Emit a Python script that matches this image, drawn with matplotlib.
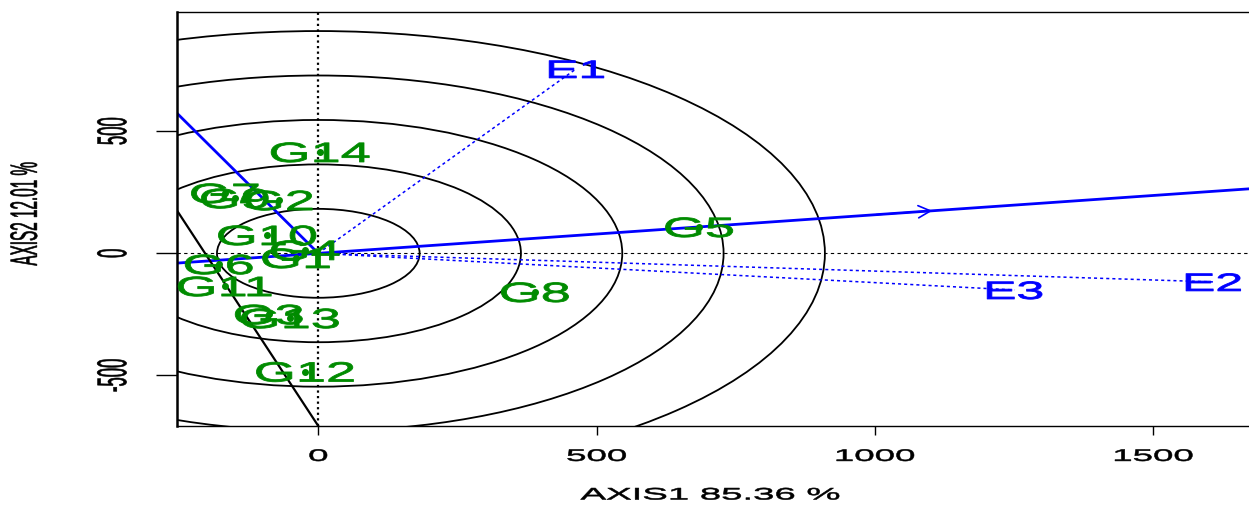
import matplotlib
matplotlib.use("Agg")
import matplotlib.pyplot as plt
from matplotlib import patheffects
from matplotlib.patches import Circle
from matplotlib.transforms import Affine2D
import numpy as np

# genotype scores (AXIS1, AXIS2)
genotypes = ["G1", "G2", "G3", "G4", "G5", "G6", "G7", "G8", "G9", "G10",
             "G11", "G12", "G13", "G14"]
g_x = [-40, -71, -89, -24, 684, -179, -168, 389, -150, -92, -168, -24, -51, 3]
g_y = [-19, 218, -249, 14, 108, -44, 247, -158, 226, 75, -134, -484, -265, 415]

# environment scores
environments = ["E1", "E2", "E3"]
e_x = [463, 1607, 1250]
e_y = [755, -117, -150]

# average environment axis and the other guide lines
aea_tip = (1108, 175)
aea_dir = (1672, 264)
ordinate_dir = (-254, 574)
cut_line_x = [-252, 0]
cut_line_y = [169, -707]
circle_radii = [182, 364, 546, 728, 910]

xticks = [0, 500, 1000, 1500]
yticks = [-500, 0, 500]
xlabel = "AXIS1 85.36 %"
ylabel = "AXIS2 12.01 %"

green = "#008B00"
blue = "#0000FF"


class Stretch(patheffects.AbstractPathEffect):
    # the original picture was stretched sideways, text included
    def __init__(self, sx, lw=0.6):
        super().__init__()
        self.sx = sx
        self.lw = lw

    def draw_path(self, renderer, gc, tpath, affine, rgbFace=None):
        ext = affine.transform_path(tpath).get_extents()
        cx = 0.5 * (ext.x0 + ext.x1)
        st = affine + Affine2D().translate(-cx, 0).scale(self.sx, 1).translate(cx, 0)
        gc0 = renderer.new_gc()
        gc0.copy_properties(gc)
        gc0.set_linewidth(self.lw)
        gc0.set_foreground(rgbFace)
        renderer.draw_path(gc0, tpath, st, rgbFace)
        gc0.restore()


plt.rcParams['font.family'] = ['Liberation Sans', 'DejaVu Sans']

fig = plt.figure(figsize=(12.49, 5.07), dpi=100)
ax = fig.add_axes([177 / 1249, 81 / 507, 1072 / 1249, 414 / 507])
ax.set_xlim(-253.8, 1671.8)
ax.set_ylim(-707, 988)

for r in circle_radii:
    ax.add_patch(Circle((0, 0), r, fill=False, color="black", lw=1.3))

ax.axvline(0, color="black", ls=(0, (1, 1.5)), lw=1.6)
ax.axhline(0, color="black", ls=(0, (3, 3)), lw=0.8)

big = 5
ax.plot([-big * aea_dir[0], big * aea_dir[0]], [-big * aea_dir[1], big * aea_dir[1]],
        color=blue, lw=2)
ax.plot([0, big * ordinate_dir[0]], [0, big * ordinate_dir[1]], color=blue, lw=2)
ax.annotate("", xy=aea_tip, xytext=(aea_tip[0] * 0.9, aea_tip[1] * 0.9),
            arrowprops=dict(arrowstyle="->", color=blue, lw=1.2, mutation_scale=22))

xx = np.array(cut_line_x, dtype=float)
yy = np.array(cut_line_y, dtype=float)
slope = (yy[1] - yy[0]) / (xx[1] - xx[0])
ax.plot([xx[0] - 100, xx[1] + 100], [yy[0] - 100 * slope, yy[1] + 100 * slope],
        color="black", lw=1.6)

for name, x, y in zip(environments, e_x, e_y):
    ax.plot([0, x], [0, y], color=blue, ls=(0, (2, 2)), lw=1.1)
    ax.annotate(name, (x, y), xytext=(0, -2), textcoords="offset pixels",
                color=blue, fontsize=18, ha="center", va="center",
                path_effects=[Stretch(2.0)])

ax.scatter(g_x, g_y, s=16, color=green, zorder=3)
for name, x, y in zip(genotypes, g_x, g_y):
    ax.annotate(name, (x, y), xytext=(0, -3), textcoords="offset pixels",
                color=green, fontsize=20, ha="center", va="center",
                path_effects=[Stretch(1.95)], zorder=4)

ax.spines["right"].set_visible(False)
ax.spines["left"].set_linewidth(1.8)
ax.spines["top"].set_linewidth(1.0)
ax.spines["bottom"].set_linewidth(1.0)

ax.set_xticks(xticks, labels=[str(v) for v in xticks])
ax.set_yticks(yticks, labels=[str(v) for v in yticks], rotation=90,
              ha="center", va="center")
ax.tick_params(axis="x", length=6.5, width=1, pad=10, labelsize=12)
ax.tick_params(axis="y", length=15, width=1, pad=31, labelsize=12)
for lab in ax.get_xticklabels():
    lab.set_path_effects([Stretch(2.2, 0.4)])
for lab in ax.get_yticklabels():
    lab.set_path_effects([Stretch(2.5, 0.4)])

ax.set_xlabel(xlabel, fontsize=12, va="center", path_effects=[Stretch(2.3, 0.4)])
ax.xaxis.set_label_coords((710 - 177) / 1072, (426 - 495) / 414)
ax.set_ylabel(ylabel, fontsize=11, va="center", path_effects=[Stretch(2.5, 0.4)])
ax.yaxis.set_label_coords((25 - 177) / 1072, (426 - 214) / 414)

fig.savefig("out.png", dpi=100)
